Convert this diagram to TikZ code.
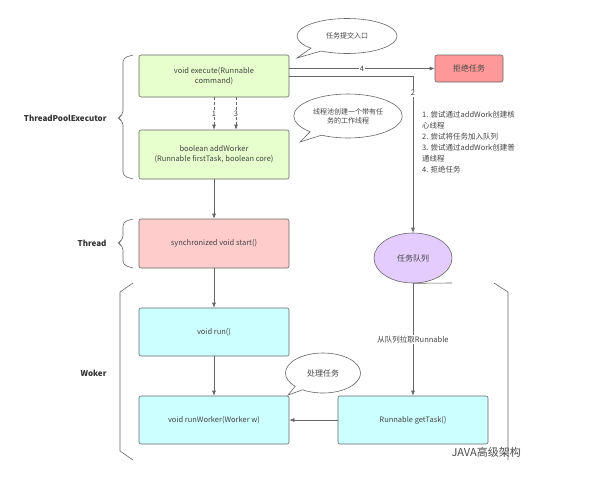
\documentclass[tikz,border=0pt]{standalone}
\usepackage{fontspec}
\setmainfont{Noto Sans CJK SC}
\usetikzlibrary{arrows.meta,shapes.geometric,shapes.callouts}
\definecolor{lgreen}{HTML}{E6FFCC}
\definecolor{lpink}{HTML}{FFCCCC}
\definecolor{lcyan}{HTML}{CCFFFF}
\definecolor{lred}{HTML}{FF9999}
\definecolor{lpurple}{HTML}{E5CCFF}
\definecolor{edge}{HTML}{666666}
\definecolor{txt}{HTML}{444444}
\tikzset{
  box/.style={draw=edge, rounded corners=2pt, minimum width=150pt, minimum height=42pt, align=center, font=\fontsize{7.5}{10}\selectfont, text=txt, line width=0.6pt},
  conn/.style={draw=edge, line width=0.6pt, -{Latex[length=5pt,width=4pt]}},
  lbl/.style={fill=white, inner sep=1pt, font=\fontsize{7.5}{9}\selectfont, text=txt},
  bubble/.style={ellipse callout, draw=edge, fill=white, align=center, font=\fontsize{7}{9}\selectfont, text=txt, line width=0.6pt},
  side/.style={font=\bfseries\fontsize{8}{10}\selectfont, text=black!80, anchor=east},
  brk/.style={draw=edge, line width=0.6pt},
  dsh/.style={dash pattern=on 3pt off 2pt}
}
\begin{document}
\begin{tikzpicture}[x=1pt,y=-1pt]
\useasboundingbox (0,0) rectangle (592,479);
\fill[white] (0,0) rectangle (592,479);
% boxes
\node[box, fill=lgreen] (exec) at (214,76) {void execute(Runnable\\command)};
\node[box, fill=lgreen, minimum height=49pt] (addw) at (214,154.5) {boolean addWorker\\(Runnable firstTask, boolean core)};
\node[box, fill=lpink, minimum height=49pt] (start) at (214,243.5) {synchronized void start()};
\node[box, fill=lcyan, minimum height=48pt] (run) at (214,332) {void run()};
\node[box, fill=lcyan, minimum height=48pt] (runw) at (214,420) {void runWorker(Worker w)};
\node[box, fill=lcyan, minimum height=48pt] (gett) at (413,420) {Runnable getTask()};
\node[box, fill=lred, minimum width=68pt, minimum height=27pt, font=\fontsize{8}{10}\selectfont] (rej) at (469,68.5) {拒绝任务};
\node[ellipse, draw=edge, fill=lpurple, minimum width=78pt, minimum height=50pt, font=\fontsize{8}{10}\selectfont, text=txt, line width=0.6pt] (queue) at (413,258) {任务队列};
% connectors
\draw[conn, dsh] (exec.south) -- node[lbl, pos=0.5]{1} (addw.north);
\draw[conn, dsh] ([xshift=22pt]exec.south) -- node[lbl, pos=0.5]{3} ([xshift=22pt]addw.north);
\draw[conn] (addw) -- (start);
\draw[conn] (start) -- (run);
\draw[conn] (run) -- (runw);
\draw[conn] (gett) -- (runw);
\draw[conn] (exec.east |- rej.west) -- node[lbl, pos=0.5]{4} (rej.west);
\coordinate (corner) at (413,76);
\draw[conn] (exec.east |- corner) -- (corner) -- node[lbl, pos=0.11]{2} (queue.north);
\draw[conn] (queue) -- node[lbl, pos=0.5]{从队列拉取Runnable} (gett);
% note list
\node[anchor=north west, align=left, font=\fontsize{7.5}{11}\selectfont, text=txt, inner sep=0pt] (notes) at (422,111) {1. 尝试通过addWork创建核\\心线程\\2. 尝试将任务加入队列\\3. 尝试通过addWork创建普\\通线程\\4. 拒绝任务};
% bubbles
\coordinate (p1) at (297,58);
\coordinate (p2) at (300,142);
\coordinate (p3) at (288,395);
\node[bubble, minimum width=100pt, minimum height=35pt, callout absolute pointer={(p1)}] (b1) at (347,36) {任务提交入口};
\node[bubble, minimum width=98pt, minimum height=44pt, callout absolute pointer={(p2)}] (b2) at (348,116) {线程池创建一个带有任\\务的工作线程};
\node[bubble, minimum width=75pt, minimum height=40pt, font=\fontsize{8}{10}\selectfont, callout absolute pointer={(p3)}] (b3) at (323,373) {处理任务};
% side labels and brackets
\node[side] (tpe) at (110,118) {ThreadPoolExecutor};
\node[side] (thr) at (110,243) {Thread};
\node[side] (wok) at (110,373) {Woker};
\draw[brk, rounded corners=4pt] (133,55) -- (123,58) -- (123,115) -- (117,118) -- (123,121) -- (123,176) -- (133,179);
\draw[brk, rounded corners=4pt] (133,219) -- (123,222) -- (123,240) -- (117,243) -- (123,246) -- (123,265) -- (133,268);
\draw[brk] (133,283) -- (120,292) -- (120,451) -- (133,460);
\draw[brk] (494,283) -- (508,292) -- (508,460);
\draw[brk] (queue.south) -- (452,283);
% watermark
\node[font=\fontsize{11}{13}\selectfont, text=black!70, anchor=west] (wm) at (448,452) {JAVA高级架构};
\end{tikzpicture}
\end{document}
